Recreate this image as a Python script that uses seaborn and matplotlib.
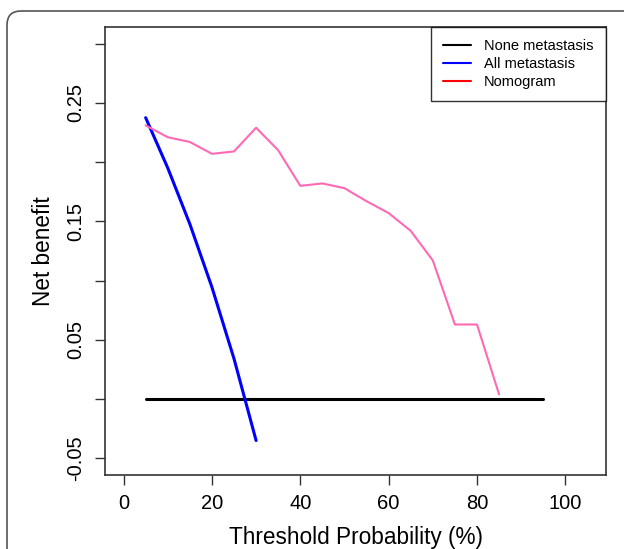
import matplotlib
matplotlib.use("Agg")
import matplotlib.pyplot as plt
from matplotlib.lines import Line2D
from matplotlib.patches import FancyBboxPatch
from matplotlib.transforms import IdentityTransform
import seaborn as sns
import pandas as pd

# values
none_x = [5, 95]
none_y = [0.0, 0.0]

all_x = [5, 10, 15, 20, 25, 30]
all_y = [0.2375, 0.1951, 0.1478, 0.0945, 0.0341, -0.0349]

nomo_x = [5, 10, 15, 20, 25, 30, 35, 40, 45, 50, 55, 60, 65, 70, 75, 80, 85]
nomo_y = [0.231, 0.221, 0.217, 0.207, 0.209, 0.229, 0.210, 0.180, 0.182,
          0.178, 0.167, 0.157, 0.142, 0.117, 0.063, 0.063, 0.004]

legend_labels = ["None metastasis", "All metastasis", "Nomogram"]
legend_colors = ["black", "blue", "red"]

x_ticks = [0, 20, 40, 60, 80, 100]
y_ticks = [-0.05, 0.0, 0.05, 0.10, 0.15, 0.20, 0.25, 0.30]
y_ticklabels = ["-0.05", "", "0.05", "", "0.15", "", "0.25", ""]

sns.set_theme(style="white")
plt.rcParams["font.family"] = ["Liberation Sans", "DejaVu Sans"]
plt.rcParams["text.color"] = "black"
plt.rcParams["axes.labelcolor"] = "black"
plt.rcParams["xtick.color"] = "black"
plt.rcParams["ytick.color"] = "black"

fig = plt.figure(figsize=(6.24, 5.49), dpi=100)
ax = fig.add_axes([105 / 624, 1 - 475 / 549, (606 - 105) / 624, (475 - 27) / 549])

df_none = pd.DataFrame({"x": none_x, "y": none_y})
df_all = pd.DataFrame({"x": all_x, "y": all_y})
df_nomo = pd.DataFrame({"x": nomo_x, "y": nomo_y})

sns.lineplot(data=df_none, x="x", y="y", ax=ax, color="black", linewidth=2.2)
sns.lineplot(data=df_all, x="x", y="y", ax=ax, color="blue", linewidth=2.2)
sns.lineplot(data=df_nomo, x="x", y="y", ax=ax, color="#FF69B4", linewidth=1.5)

ax.set_xlim(-4.2, 109.2)
ax.set_ylim(-0.064, 0.314)
ax.set_xticks(x_ticks)
ax.set_xticklabels([str(t) for t in x_ticks], fontsize=14.5)
ax.set_yticks(y_ticks)
ax.set_yticklabels(y_ticklabels, fontsize=14.5, rotation=90, va="center")
ax.tick_params(axis="both", direction="out", length=7, width=1, color="#333333",
               bottom=True, left=True, pad=7)
ax.set_xlabel("Threshold Probability (%)", fontsize=16.3, labelpad=9)
ax.set_ylabel("Net benefit", fontsize=16.3, labelpad=8)
for s in ax.spines.values():
    s.set_color("#333333")
    s.set_linewidth(1.2)

handles = [Line2D([0], [0], color=c, linewidth=1.5) for c in legend_colors]
leg = ax.legend(handles, legend_labels, loc="upper right", fontsize=10.5,
                frameon=True, fancybox=False, borderaxespad=0,
                handlelength=1.9, handletextpad=0.9, labelspacing=0.25,
                borderpad=0.85)
leg.get_frame().set_edgecolor("black")
leg.get_frame().set_linewidth(1.0)

# outer rounded frame, cut by the right and bottom edges
frame = FancyBboxPatch((7, -30), 660, 549 - 11 + 30,
                       boxstyle="round,pad=0,rounding_size=14",
                       transform=IdentityTransform(), facecolor="none",
                       edgecolor="#555555", linewidth=1.2)
fig.patches.append(frame)

fig.savefig("out.png", dpi=100)
